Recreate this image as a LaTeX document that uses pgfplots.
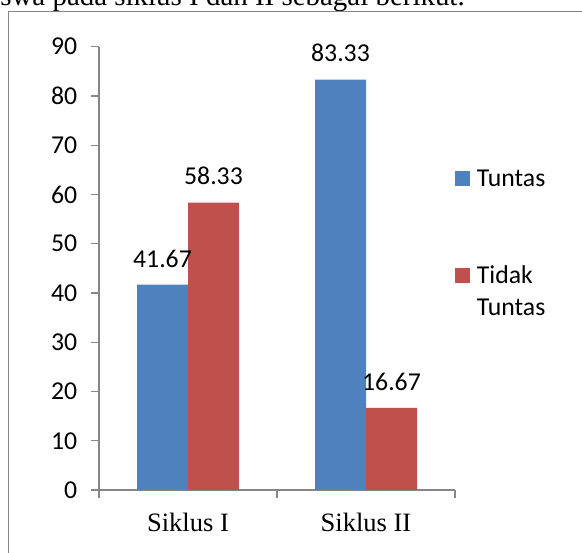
\documentclass[border=0pt]{standalone}
\usepackage{pgfplots}
\pgfplotsset{compat=1.18}
\usepackage{fontspec}
\setmainfont{Carlito}
\newfontfamily\timesfont{Liberation Serif}
\definecolor{barblue}{HTML}{4F81BD}
\definecolor{barred}{HTML}{C0504D}
\definecolor{axisgray}{HTML}{868686}
\begin{document}
\begin{tikzpicture}
\useasboundingbox (0,0) rectangle (436.5pt,414.75pt);
\clip (0,0) rectangle (436.5pt,414.75pt);
\node[anchor=base east, inner sep=0pt, font=\timesfont\fontsize{21.7}{26}\selectfont] at (348.75pt,410.25pt) {swa pada siklus I dan II sebagai berikut.};
\draw[axisgray, line width=1pt] (6.2pt,-2pt) -- (6.2pt,406pt) -- (440pt,406pt);
\begin{axis}[
  at={(74.25pt,47.25pt)}, anchor=south west,
  scale only axis, width=267pt, height=332.5pt,
  ymin=0, ymax=90, ytick={0,10,...,90},
  xmin=-0.5, xmax=1.5,
  xtick={0,1}, xticklabels={Siklus I, Siklus II},
  minor xtick={-0.5,0.5,1.5},
  axis lines*=left,
  axis line style={axisgray, line width=1pt},
  tick align=outside,
  major tick length=6pt, minor tick length=6pt,
  y tick style={axisgray, line width=1pt},
  major x tick style={draw=none},
  minor x tick style={axisgray, line width=1pt},
  ybar=0pt, bar width=38.25pt,
  ticklabel style={font=\fontsize{19.3}{23}\selectfont},
  /pgf/number format/assume math mode=true,
  yticklabel style={xshift=-6.75pt},
  xticklabel style={font=\timesfont\fontsize{19.9}{24}\selectfont, anchor=base, yshift=-25pt},
  nodes near coords={\pgfmathprintnumber[fixed,fixed zerofill,precision=2,assume math mode=true]{\pgfplotspointmeta}},
  nodes near coords style={font=\fontsize{19.3}{23}\selectfont, anchor=base, yshift=13.3pt, text=black},
  legend cell align=left,
  legend style={draw=none, fill=none, at={(1.0,0.7234)}, anchor=north west, inner sep=0pt,
    font=\fontsize{19.3}{24}\selectfont,
    nodes={inner sep=0pt},
    cells={anchor=base west},
    row sep={73pt,between origins},
    /tikz/every odd column/.append style={column sep=5pt}},
  legend image code/.code={\fill[#1] (0pt,0.4pt) rectangle (11.25pt,11.65pt);},
  clip=false,
]
\addplot[fill=barblue, draw=none] coordinates {(0,41.67) (1,83.33)};
\addplot[fill=barred, draw=none] coordinates {(0,58.33) (1,16.67)};
\legend{Tuntas, {\vtop{\hbox{Tidak}\hbox{Tuntas}}}}
\end{axis}
\end{tikzpicture}
\end{document}
